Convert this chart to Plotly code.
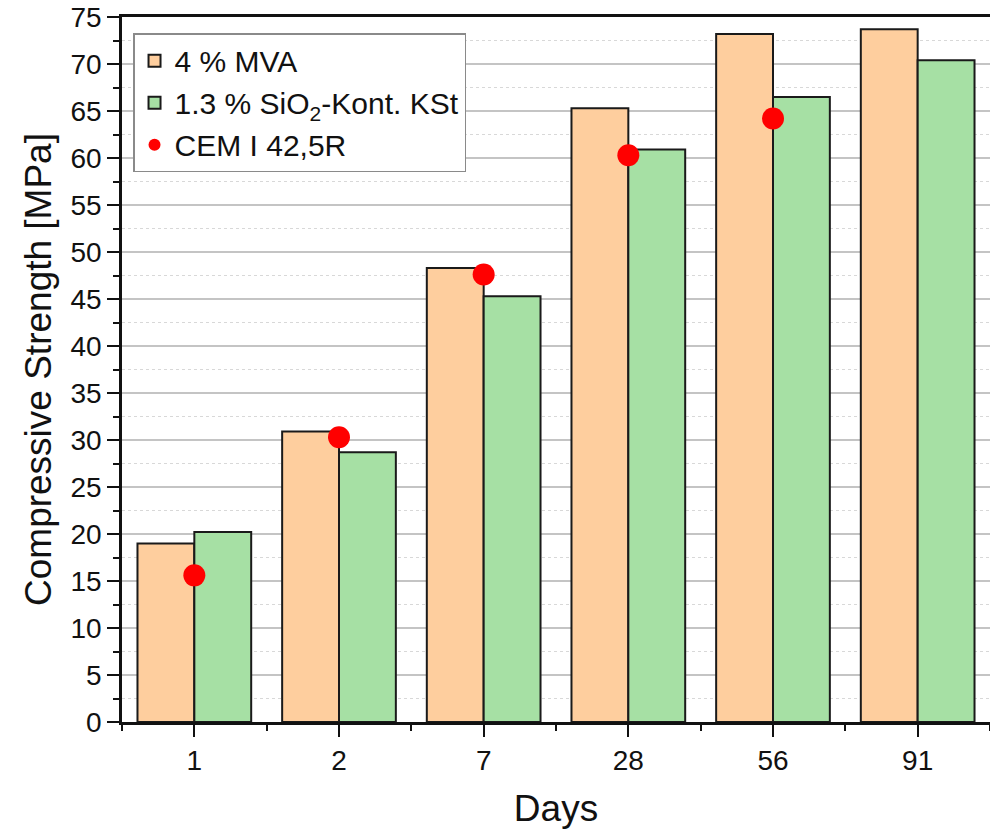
import plotly.graph_objects as go

days = ["1", "2", "7", "28", "56", "91"]
mva = [19.0, 30.9, 48.3, 65.3, 73.2, 73.7]
sio2 = [20.2, 28.7, 45.3, 60.9, 66.5, 70.4]
cem = [15.6, 30.3, 47.6, 60.3, 64.2, None]

pos = list(range(1, len(days) + 1))

FONT = "Liberation Sans, Arial, sans-serif"

fig = go.Figure()
fig.add_trace(go.Bar(
    x=pos, y=mva, name="4 % MVA",
    marker=dict(color="#FECE9E", line=dict(color="#1a1a1a", width=2)),
))
fig.add_trace(go.Bar(
    x=pos, y=sio2, name="1.3 % SiO<sub>2</sub>-Kont. KSt",
    marker=dict(color="#A6E0A4", line=dict(color="#1a1a1a", width=2)),
))
fig.add_trace(go.Scatter(
    x=pos, y=cem, name="CEM I 42,5R", mode="markers",
    marker=dict(color="#FF0000", size=22, line=dict(width=0)),
))

fig.update_layout(
    width=990, height=834,
    margin=dict(l=122, r=0, t=17, b=112),
    paper_bgcolor="white", plot_bgcolor="white",
    barmode="group", bargap=0.214, bargroupgap=0,
    font=dict(family=FONT, size=28, color="#111"),
    showlegend=True,
    legend=dict(
        x=0.0127, y=0.977, xanchor="left", yanchor="top",
        bgcolor="white", bordercolor="#8a8a8a", borderwidth=1.5,
        font=dict(family=FONT, size=30, color="#111"),
        tracegroupgap=0, itemsizing="constant",
        entrywidthmode="pixels", entrywidth=330,
    ),
    xaxis=dict(
        range=[0.5, 6.5], tickmode="array", tickvals=pos, ticktext=days,
        showline=True, linecolor="#111", linewidth=2.5, mirror=True,
        ticks="outside", ticklen=12, tickwidth=2, tickcolor="#111",
        showgrid=False, zeroline=False,
        minor=dict(tick0=0.5, dtick=1, ticks="outside", ticklen=6, tickwidth=2, tickcolor="#111", showgrid=False),
        tickfont=dict(size=28),
        title=dict(text="Days", font=dict(size=37), standoff=20),
    ),
    yaxis=dict(
        range=[0, 75], tick0=0, dtick=5,
        showline=True, linecolor="#111", linewidth=2.5, mirror=False,
        ticks="outside", ticklen=12, tickwidth=2, tickcolor="#111",
        showgrid=True, gridcolor="#c4c4c4", gridwidth=1.5, zeroline=False,
        minor=dict(dtick=2.5, ticks="outside", ticklen=6, tickwidth=2, tickcolor="#111",
                   showgrid=True, gridcolor="#d8d8d8", griddash="dot", gridwidth=1),
        tickfont=dict(size=28),
        title=dict(text="Compressive Strength [MPa]", font=dict(size=37), standoff=8),
    ),
)

fig.write_html("out.html")
